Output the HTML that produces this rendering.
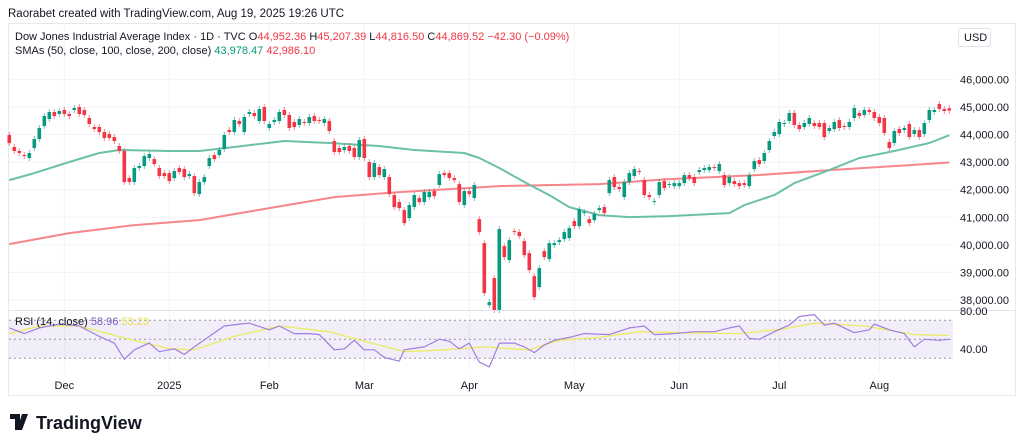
<!DOCTYPE html>
<html><head><meta charset="utf-8">
<style>
html,body{margin:0;padding:0;background:#fff;width:1024px;height:448px;overflow:hidden}
svg{display:block;font-family:"Liberation Sans",sans-serif}
</style></head>
<body>
<svg id="chart" width="1024" height="448" viewBox="0 0 1024 448">
<text x="8" y="17" font-size="11.5" fill="#131722">Raorabet created with TradingView.com, Aug 19, 2025 19:26 UTC</text>
<rect x="8.5" y="23.5" width="1007" height="372" fill="none" stroke="#e6e8ee"/>
<g id="grid"></g>
<g id="sma200"></g>
<g id="sma100"></g>
<g id="candles"></g>
<g id="rsi"></g>
<g id="axes"></g>
<g font-size="11">
<text x="15" y="40" fill="#131722">Dow Jones Industrial Average Index · 1D · TVC <tspan fill="#131722">O</tspan><tspan fill="#f23645">44,952.36</tspan> <tspan fill="#131722">H</tspan><tspan fill="#f23645">45,207.39</tspan> <tspan fill="#131722">L</tspan><tspan fill="#f23645">44,816.50</tspan> <tspan fill="#131722">C</tspan><tspan fill="#f23645">44,869.52</tspan> <tspan fill="#f23645"> −42.30 (−0.09%)</tspan></text>
<text x="15" y="54" fill="#131722">SMAs (50, close, 100, close, 200, close) <tspan fill="#089981">43,978.47</tspan> <tspan fill="#f23645"> 42,986.10</tspan></text>
<text x="15" y="325" fill="#131722">RSI (14, close) <tspan fill="#7e57c2">58.96</tspan> <tspan fill="#e6e24a">53.23</tspan></text>
</g>
<rect x="958.5" y="28.5" width="32" height="18" rx="2" fill="#fff" stroke="#e0e3eb"/>
<text x="964" y="41" font-size="11" fill="#131722">USD</text>
<g>
<path d="M10 414h10v16h-5v-11h-5z M22 414h6l-6 16h-5z" fill="#131722"/>
<circle cx="24" cy="416.5" r="2.5" fill="#131722"/>
<text x="36" y="429" font-size="18" font-weight="bold" fill="#131722">TradingView</text>
</g>
</svg>
<script>
const opens=[43984,43548,43403,43258,43149,43512,43838,44310,44564,44819,44746,44891,44746,44891,45000,44891,44601,44274,44274,44093,44020,43911,43584,43403,42423,42278,42786,42858,43149,43112,42786,42604,42604,42423,42786,42749,42495,42495,41842,42278,42858,43258,43258,43475,44165,44093,44492,44093,44746,44782,44492,45000,44238,44456,44492,44891,44710,44456,44347,44456,44419,44673,44528,44419,44492,43766,43512,43439,43584,43512,43185,43838,43004,42459,42822,42459,42459,41806,41552,41261,40971,41370,41697,41552,41733,41951,42169,42604,42604,42423,42205,41443,41951,41697,40934,40063,37813,38794,37632,39954,39446,40499,40463,40136,39700,38866,38467,39773,39482,39991,40100,40209,40245,40862,40680,41152,40934,40898,41261,41370,41878,42459,42096,41733,42278,42495,42677,42350,41806,41552,41806,42314,42169,42132,42132,42241,42532,42459,42641,42713,42713,42822,42677,42532,42241,42314,42241,42241,42132,42749,43076,43040,43439,43947,44020,44383,44492,44782,44347,44274,44383,44419,44419,44419,44129,44201,44528,44310,44274,44601,44782,44710,44891,44819,44637,44601,43730,43693,44201,44165,44383,44020,44165,44020,44528,44819,45109,44927,44952];
const closes=[43693,43403,43330,43221,43330,43838,44238,44673,44819,44673,44855,44746,44673,44964,44746,44710,44383,44201,44093,43875,43875,43766,43403,42278,42278,42786,42858,43221,43294,42931,42495,42495,42314,42677,42641,42459,42568,41878,42278,42459,43149,43112,43439,43984,44093,44528,44383,44637,44819,44673,44927,44492,44383,44528,44819,44710,44238,44274,44564,44419,44637,44492,44492,44564,44129,43367,43367,43548,43403,43185,43802,43149,42459,42967,42532,42749,41842,41370,41334,40789,41443,41806,41552,41915,41915,41769,42568,42532,42423,42350,41552,41951,41842,42169,40463,38249,37922,37632,40571,39555,40172,40463,40318,39628,39084,38104,39156,39555,40063,40063,40172,40463,40608,40680,41297,41188,40789,41116,41334,41152,42350,42096,42023,42278,42604,42749,42641,41806,41733,41588,42278,42060,42205,42241,42241,42532,42423,42241,42713,42786,42822,42786,42931,42169,42459,42205,42132,42169,42532,43040,42931,43330,43766,44093,44456,44419,44782,44347,44201,44419,44601,44310,44274,43911,44238,44456,44238,44274,44456,44964,44673,44891,44819,44601,44419,44056,43512,44129,44056,44238,43911,44165,43911,44419,44891,44891,44927,44855,44870];
const smaIdx=[0,5,12,18,22,32,38,45,55,64,74,81,91,94,98,103,108,112,118,124,132,144,147,153,157,164,170,177,184,188];
const sma100=[42350,42604,43004,43330,43439,43403,43403,43548,43766,43693,43584,43439,43330,43149,42786,42278,41806,41370,41080,41007,41043,41152,41443,41806,42241,42713,43149,43403,43693,43978];
const sma200Idx=[0,12,25,38,52,65,78,98,118,132,150,164,177,188];
const sma200=[40027,40427,40717,40898,41334,41733,41915,42132,42205,42386,42532,42713,42858,42986];
const rsiIdx=[0,3,6,10,14,18,21,23,25,28,30,33,35,37,40,43,46,48,52,54,57,60,62,65,67,69,71,73,75,78,79,83,86,88,90,92,94,96,98,101,103,105,107,109,112,115,120,124,127,129,133,137,141,144,146,148,150,153,156,158,161,163,165,169,172,173,176,179,181,183,186,188];
const rsiVals=[62,56,62,66,64,53,46,29,39,46,37,40,34,42,53,64,66,67,60,64,56,56,55,39,40,49,39,39,31,27,39,42,50,48,40,46,26,21,46,46,42,36,44,49,52,56,55,62,64,55,56,58,58,62,64,51,50,58,65,74,76,65,67,57,60,66,60,56,42,50,49,50];
const rsiMaIdx=[0,6,14,24,32,37,45,54,64,71,79,87,95,104,110,118,126,135,146,155,161,171,181,188];
const rsiMa=[56,64,64,50,40,39,53,64,58,48,37,39,42,39,49,52,58,57,56,61,67,64,55,54];
const priceTicks=[38000,39000,40000,41000,42000,43000,44000,45000,46000];
const priceTickLabels=["38,000.00","39,000.00","40,000.00","41,000.00","42,000.00","43,000.00","44,000.00","45,000.00","46,000.00"];
const timeTickIdx=[11,32,52,71,92,113,134,154,174];
const timeTickLabels=["Dec","2025","Feb","Mar","Apr","May","Jun","Jul","Aug"];
const rsiTicks=[80,40];
const rsiTickLabels=["80.00","40.00"];

const NS="http://www.w3.org/2000/svg";
function mk(tag,attrs,parent){const e=document.createElementNS(NS,tag);for(const k in attrs)e.setAttribute(k,attrs[k]);parent.appendChild(e);return e;}
const xOf=i=>9.3+i*5.0;
const yP=p=>107+(45000-p)*0.02757;
const yR=r=>339.3-(r-50)*0.95;
const grid=document.getElementById('grid');
priceTicks.forEach(p=>{const l=mk('line',{x1:9,x2:953,y1:yP(p),y2:yP(p),stroke:'#f0f3fa'},grid);

});
timeTickIdx.forEach(i=>{const l=mk('line',{x1:xOf(i),x2:xOf(i),y1:24,y2:372,stroke:'#f0f3fa'},grid);

});
function poly(idx,vals,yf,color,w,parent,name){
 const pts=idx.map((i,k)=>xOf(i).toFixed(1)+','+yf(vals[k]).toFixed(1)).join(' ');
 const p=mk('polyline',{points:pts,fill:'none',stroke:color,'stroke-width':w,'stroke-linejoin':'round'},parent);
 
 
}
poly(sma200Idx,sma200,yP,'#f7868a',2,document.getElementById('sma200'),'sma-200');
poly(smaIdx,sma100,yP,'#6cc0a6',2,document.getElementById('sma100'),'sma-100');
const cg=document.getElementById('candles');
opens.forEach((o,i)=>{
 const c=closes[i];const up=c>=o;const col=up?'#089981':'#f23645';
 const x=xOf(i);const top=yP(Math.max(o,c));const bot=yP(Math.min(o,c));
 const w=mk('line',{x1:x,x2:x,y1:top-3,y2:bot+3,stroke:col,'stroke-opacity':0.6},cg);
 
 
 const b=mk('rect',{x:x-1.8,y:top,width:3.6,height:Math.max(1,bot-top),fill:col},cg);
 
 
});
const rg=document.getElementById('rsi');
const sep=mk('line',{x1:9,x2:1015,y1:310.5,y2:310.5,stroke:'#e0e3eb'},rg);


const band=mk('rect',{x:9,y:yR(70),width:944,height:yR(30)-yR(70),fill:'rgba(126,87,194,0.1)'},rg);


[70,50,30].forEach(v=>{const l=mk('line',{x1:9,x2:953,y1:yR(v),y2:yR(v),stroke:'#9598a1','stroke-dasharray':'2,3'},rg);

});
poly(rsiMaIdx,rsiMa,yR,'#eceb60',1.3,rg,'rsi-ma-line');
poly(rsiIdx,rsiVals,yR,'#a07ee0',1.2,rg,'rsi-line');
const ax=document.getElementById('axes');
priceTicks.forEach((p,k)=>{const t=mk('text',{x:960,y:yP(p)+4,'font-size':11,fill:'#131722'},ax);t.textContent=priceTickLabels[k];

});
rsiTicks.forEach((r,k)=>{const t=mk('text',{x:960,y:yR(r)+4,'font-size':11,fill:'#131722'},ax);t.textContent=rsiTickLabels[k];

});
timeTickIdx.forEach((i,k)=>{const t=mk('text',{x:xOf(i),y:389,'font-size':11,fill:'#131722','text-anchor':'middle'},ax);t.textContent=timeTickLabels[k];

});
</script>
</body></html>
